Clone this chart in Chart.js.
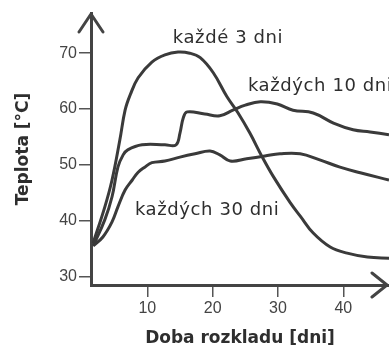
<!DOCTYPE html>
<html>
<head>
<meta charset="utf-8">
<script src="https://cdn.jsdelivr.net/npm/chart.js@4"></script>
<style>
  html, body { margin: 0; padding: 0; background: #fff; }
  #wrap { width: 389px; height: 349px; position: relative; }
</style>
</head>
<body>
<div id="wrap"><canvas id="chart"></canvas></div>
<script>
// Series (x = days, y = °C)
const seriesNames = ['každé 3 dni', 'každých 10 dni', 'každých 30 dni'];

const days3 = [1.7, 3.5, 4.6, 5.8, 6.6, 7.4, 8.6, 10.7, 12.7, 14.7, 16.5, 18.1, 20.1, 22.2, 23.9, 25.7, 27.6, 29.3, 31.9, 33.5, 35.4, 38.0, 40.6, 43.7, 47.1];
const temp3 = [36.0, 42.5, 47.3, 54.5, 59.8, 62.6, 65.6, 68.4, 69.7, 70.2, 70.0, 69.2, 66.5, 62.2, 59.3, 55.7, 51.4, 47.9, 43.2, 40.7, 37.8, 35.3, 34.2, 33.5, 33.3];

const days10 = [1.8, 3.5, 4.6, 5.5, 6.3, 7.0, 9.2, 12.7, 14.4, 15.0, 15.5, 16.1, 18.8, 21.1, 23.1, 25.0, 27.3, 29.9, 32.3, 35.4, 38.5, 41.5, 44.1, 47.0];
const temp10 = [35.7, 40.2, 44.3, 49.6, 51.8, 52.7, 53.6, 53.6, 53.6, 55.7, 58.4, 59.5, 59.1, 58.8, 59.8, 60.7, 61.3, 60.9, 59.8, 59.3, 57.5, 56.3, 55.9, 55.4];

const days30 = [1.7, 3.2, 4.6, 5.5, 6.6, 7.7, 8.6, 9.6, 10.7, 12.7, 15.0, 17.3, 19.6, 21.1, 22.7, 25.2, 28.0, 30.3, 33.4, 36.4, 39.5, 42.6, 47.0];
const temp30 = [35.5, 37.1, 39.8, 42.5, 45.5, 47.3, 48.7, 49.6, 50.4, 50.7, 51.4, 52.0, 52.5, 51.8, 50.7, 51.1, 51.6, 52.0, 52.0, 50.9, 49.6, 48.6, 47.3];

const xTicks = [10, 20, 30, 40];
const yTicks = [30, 40, 50, 60, 70];
const xTitle = 'Doba rozkladu [dni]';
const yTitle = 'Teplota [°C]';

// where the curve names sit (in data units)
const labelDays = [13.9, 25.4, 8.1];
const labelTemps = [72.6, 64.0, 41.8];

const ink = '#3a3a3a';

function toPoints(xs, ys) {
  return xs.map((x, i) => ({ x: x, y: ys[i] }));
}

// open arrowheads at the ends of both axes
const axisArrows = {
  id: 'axisArrows',
  afterDraw(chart) {
    const { ctx, chartArea: a } = chart;
    ctx.save();
    ctx.strokeStyle = '#444';
    ctx.lineWidth = 3;
    ctx.lineCap = 'round';
    ctx.lineJoin = 'round';
    ctx.beginPath();
    ctx.moveTo(a.left - 12, a.top + 19);
    ctx.lineTo(a.left, a.top + 1);
    ctx.lineTo(a.left + 12, a.top + 19);
    ctx.moveTo(a.right - 17, a.bottom - 12);
    ctx.lineTo(a.right - 2, a.bottom);
    ctx.lineTo(a.right - 17, a.bottom + 12);
    ctx.stroke();
    ctx.restore();
  }
};

// curve names written next to the lines
const curveLabels = {
  id: 'curveLabels',
  afterDatasetsDraw(chart) {
    const { ctx, scales } = chart;
    ctx.save();
    ctx.font = '18px "DejaVu Sans"';
    if ('letterSpacing' in ctx) ctx.letterSpacing = '0.6px';
    ctx.fillStyle = '#2e2e2e';
    ctx.textAlign = 'left';
    ctx.textBaseline = 'middle';
    seriesNames.forEach((name, i) => {
      ctx.fillText(name, scales.x.getPixelForValue(labelDays[i]), scales.y.getPixelForValue(labelTemps[i]));
    });
    ctx.restore();
  }
};

const lineStyle = {
  showLine: true,
  borderColor: ink,
  borderWidth: 3,
  pointRadius: 0,
  fill: false,
  tension: 0.4
};

new Chart(document.getElementById('chart'), {
  type: 'scatter',
  data: {
    datasets: [
      Object.assign({ label: seriesNames[0], data: toPoints(days3, temp3) }, lineStyle),
      Object.assign({ label: seriesNames[1], data: toPoints(days10, temp10) }, lineStyle),
      Object.assign({ label: seriesNames[2], data: toPoints(days30, temp30) }, lineStyle)
    ]
  },
  options: {
    responsive: true,
    maintainAspectRatio: false,
    animation: false,
    layout: { padding: { top: 13, right: 0, left: 0, bottom: 0 } },
    plugins: {
      legend: { display: false },
      tooltip: { enabled: false }
    },
    scales: {
      x: {
        type: 'linear',
        min: 1.38,
        max: 47.0,
        afterBuildTicks(scale) { scale.ticks = xTicks.map(v => ({ value: v })); },
        afterFit(scale) { scale.height = 64; },
        border: { color: '#444', width: 3 },
        grid: { drawOnChartArea: false, drawTicks: true, tickLength: 12, color: '#555', lineWidth: 1.5 },
        ticks: { color: '#444', padding: 2, font: { family: 'Liberation Sans', size: 16 } },
        title: {
          display: true,
          text: xTitle,
          color: '#2e2e2e',
          padding: { top: 0, bottom: 0 },
          font: { family: 'DejaVu Sans', size: 17, weight: 'bold' }
        }
      },
      y: {
        type: 'linear',
        min: 28.5,
        max: 77.2,
        afterBuildTicks(scale) { scale.ticks = yTicks.map(v => ({ value: v })); },
        afterFit(scale) { scale.width = 91; },
        border: { color: '#444', width: 3 },
        grid: { drawOnChartArea: false, drawTicks: true, tickLength: 12, color: '#555', lineWidth: 1.5 },
        ticks: { color: '#444', padding: 2, font: { family: 'Liberation Sans', size: 16 } },
        title: {
          display: true,
          text: yTitle,
          color: '#2e2e2e',
          padding: { top: 13, bottom: 0 },
          font: { family: 'DejaVu Sans', size: 17, weight: 'bold' }
        }
      }
    }
  },
  plugins: [axisArrows, curveLabels]
});
</script>
</body>
</html>
